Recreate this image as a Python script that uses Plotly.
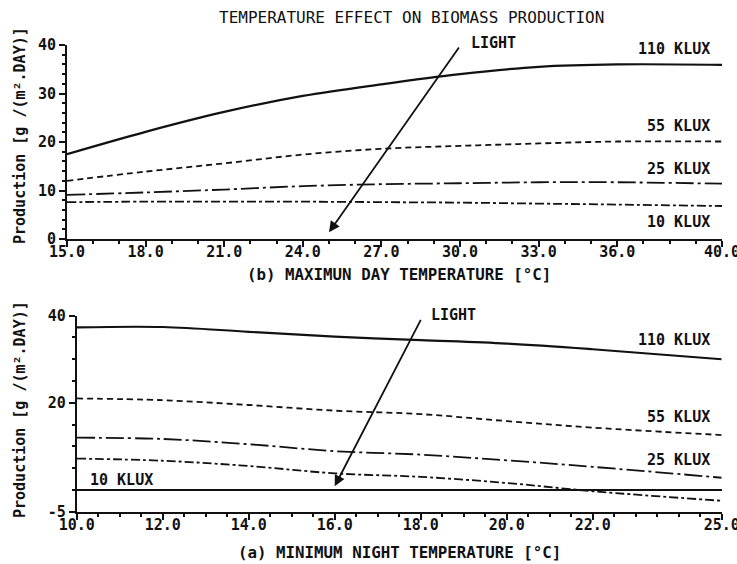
import plotly.graph_objects as go

# ---- (b) production vs. maximum day temperature ----
day_temp = [15, 18, 21, 24, 27, 30, 33, 36, 40]
day_110 = [17.5, 22.1, 26.2, 29.5, 31.9, 34.0, 35.5, 36.0, 35.9]
day_55 = [12.0, 13.9, 15.6, 17.4, 18.6, 19.2, 19.7, 20.1, 20.1]
day_25 = [9.1, 9.6, 10.2, 10.9, 11.3, 11.5, 11.7, 11.7, 11.4]
day_10 = [7.6, 7.7, 7.7, 7.7, 7.6, 7.5, 7.3, 7.1, 6.8]
day_ticks = [15, 18, 21, 24, 27, 30, 33, 36, 40]
day_ticktext = ["15.0", "18.0", "21.0", "24.0", "27.0", "30.0", "33.0", "36.0", "40.0"]

# ---- (a) production vs. minimum night temperature ----
night_temp = [10, 12, 14, 16, 18, 20, 22, 25]
night_110 = [37.3, 37.4, 36.3, 35.2, 34.4, 33.6, 32.3, 30.0]
night_55 = [21.0, 20.6, 19.5, 18.2, 17.4, 15.8, 14.3, 12.6]
night_25 = [12.0, 11.7, 10.5, 8.9, 8.1, 6.8, 5.3, 2.8]
night_10 = [7.2, 6.7, 5.5, 3.8, 3.0, 1.6, -0.3, -2.5]
night_ticks = [10, 12, 14, 16, 18, 20, 22, 25]
night_ticktext = ["10.0", "12.0", "14.0", "16.0", "18.0", "20.0", "22.0", "25.0"]

FONT = "DejaVu Sans Mono"
INK = "#111111"

styles = {
    "110": dict(color=INK, width=2.2, dash="solid"),
    "55": dict(color=INK, width=1.8, dash="6px,4px"),
    "25": dict(color=INK, width=1.8, dash="18px,4px,3px,4px"),
    "10": dict(color=INK, width=1.8, dash="9px,3px,3px,3px"),
}

fig = go.Figure()

for ys, key in [(day_110, "110"), (day_55, "55"), (day_25, "25"), (day_10, "10")]:
    fig.add_trace(go.Scatter(x=day_temp, y=ys, mode="lines", line=dict(shape="spline", **styles[key]),
                             xaxis="x", yaxis="y", showlegend=False, hoverinfo="skip"))

for ys, key in [(night_110, "110"), (night_55, "55"), (night_25, "25"), (night_10, "10")]:
    fig.add_trace(go.Scatter(x=night_temp, y=ys, mode="lines", line=dict(shape="spline", **styles[key]),
                             xaxis="x2", yaxis="y2", showlegend=False, hoverinfo="skip"))

tickfont = dict(family=FONT, size=15, color=INK, weight="bold")

common = dict(showline=True, linecolor=INK, linewidth=2, ticks="outside", tickcolor=INK,
              tickwidth=2, ticklen=6, showgrid=False, tickfont=tickfont,
              automargin=False, fixedrange=True, ticklabeloverflow="allow")

fig.update_layout(
    width=737, height=564, autosize=False,
    margin=dict(l=0, r=0, t=0, b=0),
    template="none",
    paper_bgcolor="white", plot_bgcolor="white",
    xaxis=dict(domain=[67 / 737, 722 / 737], anchor="y", range=[15, 40],
               tickmode="array", tickvals=day_ticks, ticktext=day_ticktext,
               ticklabelstandoff=-8, zeroline=False,
               minor=dict(ticks="outside", ticklen=3, tickwidth=1.5, tickcolor=INK, dtick=1, tick0=15),
               **common),
    yaxis=dict(domain=[1 - 239 / 564, 1 - 45 / 564], anchor="x", range=[0, 40],
               tickmode="array", tickvals=[0, 10, 20, 30, 40], ticktext=["0", "10", "20", "30", "40"],
               zeroline=False,
               minor=dict(ticks="outside", ticklen=3, tickwidth=1.5, tickcolor=INK, dtick=2, tick0=0),
               **common),
    xaxis2=dict(domain=[76.7 / 737, 721.7 / 737], anchor="y2", range=[10, 25],
                tickmode="array", tickvals=night_ticks, ticktext=night_ticktext,
                ticklabelstandoff=-8, zeroline=False,
                minor=dict(ticks="outside", ticklen=3, tickwidth=1.5, tickcolor=INK, dtick=0.5, tick0=10),
                **common),
    yaxis2=dict(domain=[1 - 511.7 / 564, 1 - 315.7 / 564], anchor="x2", range=[-5, 40],
                tickmode="array", tickvals=[-5, 20, 40], ticktext=["-5", "20", "40"],
                zeroline=True, zerolinecolor=INK, zerolinewidth=2,
                minor=dict(ticks="outside", ticklen=3, tickwidth=1.5, tickcolor=INK, dtick=5, tick0=0),
                **common),
)

label_font = dict(family=FONT, size=15, color=INK, weight="bold")
ann = []

# curve labels, panel (b)
for txt, yv in [("110 KLUX", 39.2), ("55 KLUX", 23.3), ("25 KLUX", 14.5), ("10 KLUX", 3.6)]:
    ann.append(dict(x=39.62, y=yv, xref="x", yref="y", text=txt, showarrow=False,
                    xanchor="right", yanchor="middle", font=label_font))
# curve labels, panel (a)
for txt, yv in [("110 KLUX", 34.4), ("55 KLUX", 16.7), ("25 KLUX", 6.8)]:
    ann.append(dict(x=24.77, y=yv, xref="x2", yref="y2", text=txt, showarrow=False,
                    xanchor="right", yanchor="middle", font=label_font))
ann.append(dict(x=10.27, y=2.2, xref="x2", yref="y2", text="10 KLUX", showarrow=False,
                xanchor="left", yanchor="middle", font=label_font))

# increasing light arrows
ann.append(dict(x=25.0, y=1.4, xref="x", yref="y", ax=30.0, ay=39.8, axref="x", ayref="y",
                text="", showarrow=True, arrowhead=2, arrowsize=1.2, arrowwidth=1.8, arrowcolor=INK))
ann.append(dict(x=30.35, y=1 - 43 / 564, xref="x", yref="paper", text="LIGHT", showarrow=False,
                xanchor="left", yanchor="middle", font=label_font))
ann.append(dict(x=16.0, y=0.85, xref="x2", yref="y2", ax=18.02, ay=39.4, axref="x2", ayref="y2",
                text="", showarrow=True, arrowhead=2, arrowsize=1.2, arrowwidth=1.8, arrowcolor=INK))
ann.append(dict(x=18.2, y=1 - 314.5 / 564, xref="x2", yref="paper", text="LIGHT", showarrow=False,
                xanchor="left", yanchor="middle", font=label_font))

# titles
ann.append(dict(x=411.5 / 737, y=1 - 18 / 564, xref="paper", yref="paper",
                text="TEMPERATURE EFFECT ON BIOMASS PRODUCTION", showarrow=False,
                xanchor="center", yanchor="middle", font=dict(family=FONT, size=16, color=INK)))
ann.append(dict(x=399 / 737, y=1 - 274 / 564, xref="paper", yref="paper",
                text="(b) MAXIMUN DAY TEMPERATURE [°C]", showarrow=False,
                xanchor="center", yanchor="middle", font=dict(family=FONT, size=15.8, color=INK, weight="bold")))
ann.append(dict(x=399 / 737, y=1 - 552 / 564, xref="paper", yref="paper",
                text="(a) MINIMUM NIGHT TEMPERATURE [°C]", showarrow=False,
                xanchor="center", yanchor="middle", font=dict(family=FONT, size=15.8, color=INK, weight="bold")))
for yc in [136, 410]:
    ann.append(dict(x=20 / 737, y=1 - yc / 564, xref="paper", yref="paper",
                    text="Production [g /(m².DAY)]", showarrow=False, textangle=-90,
                    xanchor="center", yanchor="middle", font=label_font))

fig.update_layout(annotations=ann)

fig.write_html("out.html")
